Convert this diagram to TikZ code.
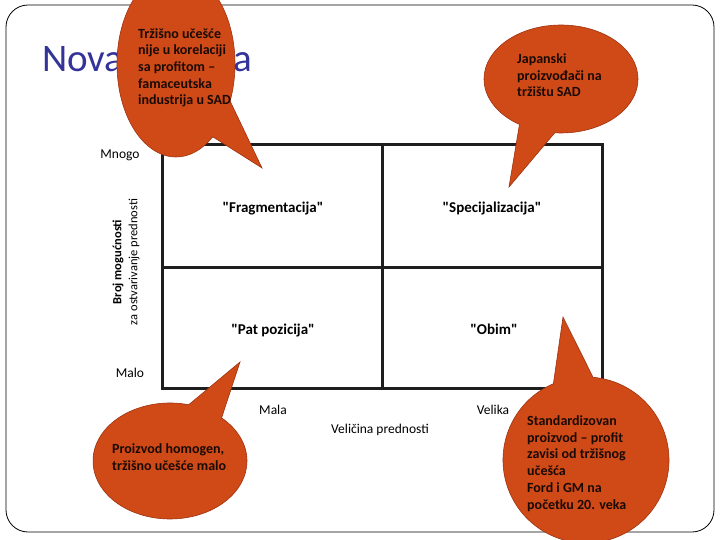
\documentclass[tikz,border=0pt]{standalone}
\usepackage{fontspec}
\setmainfont{Carlito}[Ligatures=TeXOff]
\usepackage{tikz}
\usetikzlibrary{shapes.callouts}
\definecolor{Title}{HTML}{333399}
\definecolor{Bubble}{HTML}{D04A18}
\definecolor{BubbleEdge}{HTML}{9E3210}
\definecolor{Grid}{HTML}{1E1E1E}
\definecolor{Ink}{HTML}{1A0A04}

\begin{document}
\begin{tikzpicture}[x=1pt,y=-1pt,
  bubble/.style={ellipse callout,fill=Bubble,draw=BubbleEdge,line width=0.6pt,inner sep=0pt,callout pointer arc=28},
  note/.style={anchor=base west,align=left,inner sep=0pt,text=Ink,font=\fontsize{14}{16.7}\selectfont\bfseries},
  cell/.style={anchor=base,inner sep=0pt,font=\fontsize{15}{17}\selectfont\bfseries},
  axis/.style={anchor=base,inner sep=0pt,font=\fontsize{13.5}{16}\selectfont}]
  \useasboundingbox (0,0) rectangle (720,540);
  \draw[line width=0.8pt,rounded corners=22pt] (6,5) rectangle (714,532);
  \node[anchor=base west,inner sep=0pt,text=Title,font=\fontsize{39}{40}\selectfont] (title) at (42,72) {Nova matrica};
  % matrix
  \draw[Grid,line width=3pt] (162,145) rectangle (602,388);
  \draw[Grid,line width=3pt] (382,145) -- (382,388) (162,267) -- (602,267);
  \node[cell] (frag) at (273,212) {"Fragmentacija"};
  \node[cell] (spec) at (492,213) {"Specijalizacija"};
  \node[cell] (pat) at (273,334) {"Pat pozicija"};
  \node[cell] (obim) at (494,334) {"Obim"};
  % axes
  \node[axis] (mnogo) at (120,159) {Mnogo};
  \node[axis] (malo) at (130,377) {Malo};
  \node[axis] (mala) at (273,414) {Mala};
  \node[axis] (velika) at (493,414) {Velika};
  \node[axis] (velicina) at (380,433) {Veličina prednosti};
  \node[rotate=90,align=center,inner sep=0pt,font=\fontsize{12.5}{16}\selectfont] (broj) at (126,262)
    {{\bfseries Broj mogućnosti}\\za ostvarivanje prednosti};
  % callouts
  \coordinate (tipA) at (262,168);
  \coordinate (tipB) at (509,187);
  \coordinate (tipC) at (240,362);
  \coordinate (tipD) at (563,317);
  \node[bubble,minimum width=118pt,minimum height=186pt,callout absolute pointer=(tipA)] (bubA) at (176,64) {};
  \node[bubble,minimum width=154pt,minimum height=108pt,callout absolute pointer=(tipB)] (bubB) at (561,79) {};
  \node[bubble,minimum width=154pt,minimum height=116pt,callout absolute pointer=(tipC)] (bubC) at (170,461) {};
  \node[bubble,minimum width=166pt,minimum height=166pt,callout absolute pointer=(tipD)] (bubD) at (586,460) {};
  % notes (base = last line)
  \node[note] (noteA) at (138,105) {Tržišno učešće\\nije u korelaciji\\sa profitom –\\famaceutska\\industrija u SAD};
  \node[note] (noteB) at (517,97) {Japanski\\proizvođači na\\tržištu SAD};
  \node[note] (noteC) at (112,470) {Proizvod homogen,\\tržišno učešće malo};
  \node[note] (noteD) at (527,509) {Standardizovan\\proizvod – profit\\zavisi od tržišnog\\učešća\\Ford i GM na\\početku 20. veka};
\end{tikzpicture}
\end{document}
